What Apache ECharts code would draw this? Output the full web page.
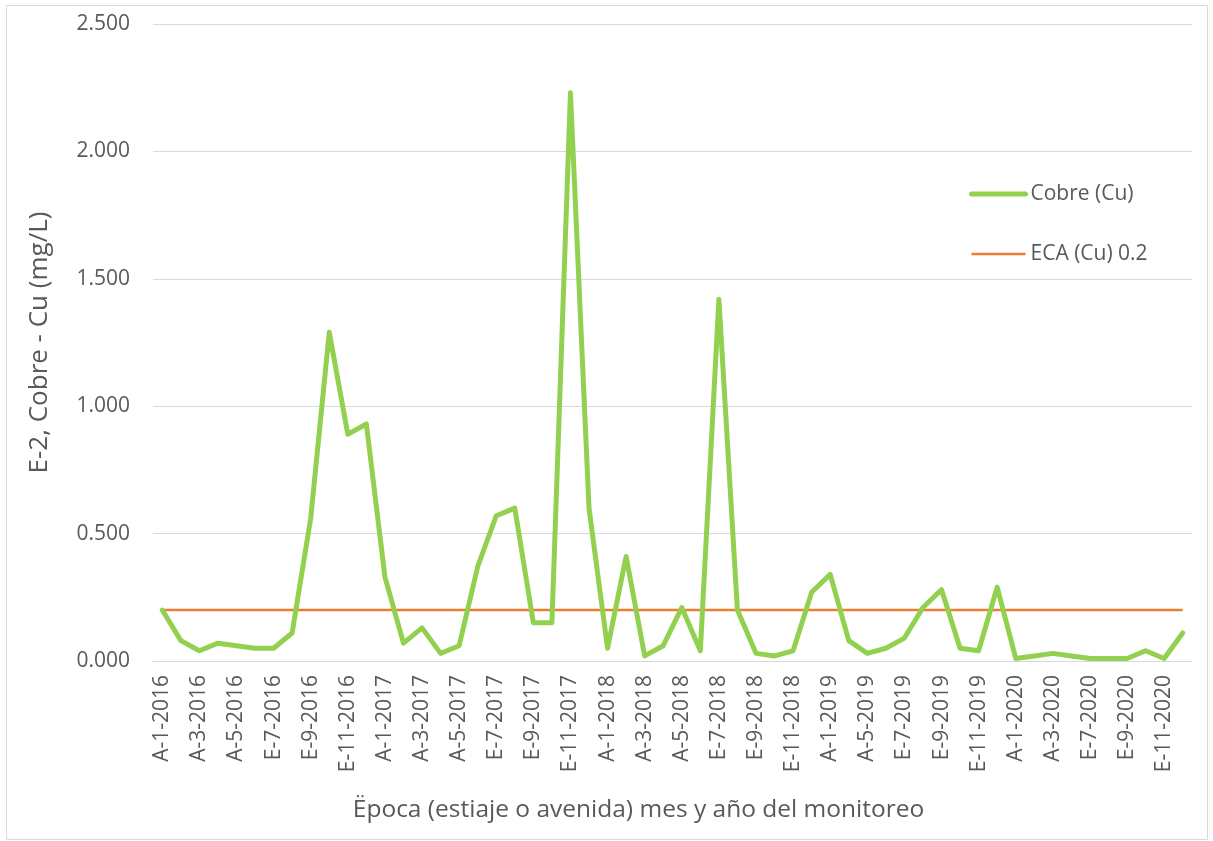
<!DOCTYPE html>
<html>
<head>
<meta charset="utf-8">
<script src="https://cdn.jsdelivr.net/npm/echarts@6/dist/echarts.min.js"></script>
<style>
html,body{margin:0;padding:0;background:#fff;}
#chart{width:1213px;height:841px;}
</style>
</head>
<body>
<div id="chart"></div>
<script>
const categories = [
  'A-1-2016','A-2-2016','A-3-2016','A-4-2016','A-5-2016','E-6-2016','E-7-2016','E-8-2016','E-9-2016','E-10-2016','E-11-2016','E-12-2016',
  'A-1-2017','A-2-2017','A-3-2017','A-4-2017','A-5-2017','E-6-2017','E-7-2017','E-8-2017','E-9-2017','E-10-2017','E-11-2017','E-12-2017',
  'A-1-2018','A-2-2018','A-3-2018','A-4-2018','A-5-2018','E-6-2018','E-7-2018','E-8-2018','E-9-2018','E-10-2018','E-11-2018','E-12-2018',
  'A-1-2019','A-3-2019','A-5-2019','E-6-2019','E-7-2019','E-8-2019','E-9-2019','E-10-2019','E-11-2019','E-12-2019',
  'A-1-2020','A-2-2020','A-3-2020','A-5-2020','E-7-2020','E-8-2020','E-9-2020','E-10-2020','E-11-2020','E-12-2020'
];
const cobre = [
  0.20,0.08,0.04,0.07,0.06,0.05,0.05,0.11,0.56,1.29,0.89,0.93,
  0.33,0.07,0.13,0.03,0.06,0.37,0.57,0.60,0.15,0.15,2.23,0.60,
  0.05,0.41,0.02,0.06,0.21,0.04,1.42,0.20,0.03,0.02,0.04,0.27,
  0.34,0.08,0.03,0.05,0.09,0.21,0.28,0.05,0.04,0.29,
  0.01,0.02,0.03,0.02,0.01,0.01,0.01,0.04,0.01,0.11
];
const eca = [
  0.2,0.2,0.2,0.2,0.2,0.2,0.2,0.2,0.2,0.2,0.2,0.2,
  0.2,0.2,0.2,0.2,0.2,0.2,0.2,0.2,0.2,0.2,0.2,0.2,
  0.2,0.2,0.2,0.2,0.2,0.2,0.2,0.2,0.2,0.2,0.2,0.2,
  0.2,0.2,0.2,0.2,0.2,0.2,0.2,0.2,0.2,0.2,
  0.2,0.2,0.2,0.2,0.2,0.2,0.2,0.2,0.2,0.2
];
const yTicks = { min: 0, max: 2.5, interval: 0.5 };

const FONT = '"Open Sans", "Noto Sans", sans-serif';
const TXT = '#595959';
const hiddenSymbol = {color: 'rgba(0,0,0,0)', opacity: 0, borderWidth: 0};
const chart = echarts.init(document.getElementById('chart'), null, {renderer: 'canvas'});
chart.setOption({
  animation: false,
  backgroundColor: '#fff',
  graphic: [{
    type: 'rect', silent: true, z: -1,
    shape: {x: 6.5, y: 5.5, width: 1201, height: 834},
    style: {fill: 'none', stroke: '#d9d9d9', lineWidth: 1}
  }],
  grid: {left: 153, right: 21, top: 24, bottom: 180, containLabel: false},
  legend: {
    orient: 'vertical',
    left: 964, top: 177,
    itemWidth: 54, itemHeight: 24, itemGap: 36,
    textStyle: {color: TXT, fontSize: 21, fontFamily: FONT, lineHeight: 24},
    data: [
      {name: 'Cobre (Cu)', itemStyle: hiddenSymbol, lineStyle: {width: 5, cap: 'round', color: '#92d050'}},
      {name: 'ECA (Cu) 0.2', itemStyle: hiddenSymbol, lineStyle: {width: 2.5, color: '#ed7d31'}}
    ]
  },
  xAxis: {
    type: 'category',
    data: categories,
    boundaryGap: true,
    axisLine: {show: true, lineStyle: {color: '#d9d9d9', width: 1}},
    axisTick: {show: false},
    axisLabel: {interval: 1, rotate: 90, margin: 14, color: TXT, fontSize: 21, fontFamily: FONT},
    name: 'Ëpoca (estiaje o avenida) mes y año del monitoreo',
    nameLocation: 'middle',
    nameGap: 137,
    nameTextStyle: {color: TXT, fontSize: 24.5, fontFamily: FONT, padding: [0, 68, 0, 0]}
  },
  yAxis: {
    type: 'value',
    min: yTicks.min, max: yTicks.max, interval: yTicks.interval,
    axisLine: {show: false},
    axisTick: {show: false},
    splitLine: {lineStyle: {color: '#d9d9d9', width: 1}},
    axisLabel: {margin: 23, color: TXT, fontSize: 21, fontFamily: FONT,
      formatter: v => v.toFixed(3)},
    name: 'E-2, Cobre - Cu (mg/L)',
    nameLocation: 'middle',
    nameGap: 100,
    nameTextStyle: {color: TXT, fontSize: 26, fontFamily: FONT}
  },
  series: [
    {
      name: 'Cobre (Cu)', type: 'line', data: cobre,
      symbol: 'none', showSymbol: false,
      lineStyle: {color: '#92d050', width: 5, join: 'round', cap: 'round'},
      itemStyle: {color: '#92d050'}, z: 3
    },
    {
      name: 'ECA (Cu) 0.2', type: 'line', data: eca,
      symbol: 'none', showSymbol: false,
      lineStyle: {color: '#ed7d31', width: 2.5},
      itemStyle: {color: '#ed7d31'}, z: 2
    }
  ]
});
</script>
</body>
</html>
